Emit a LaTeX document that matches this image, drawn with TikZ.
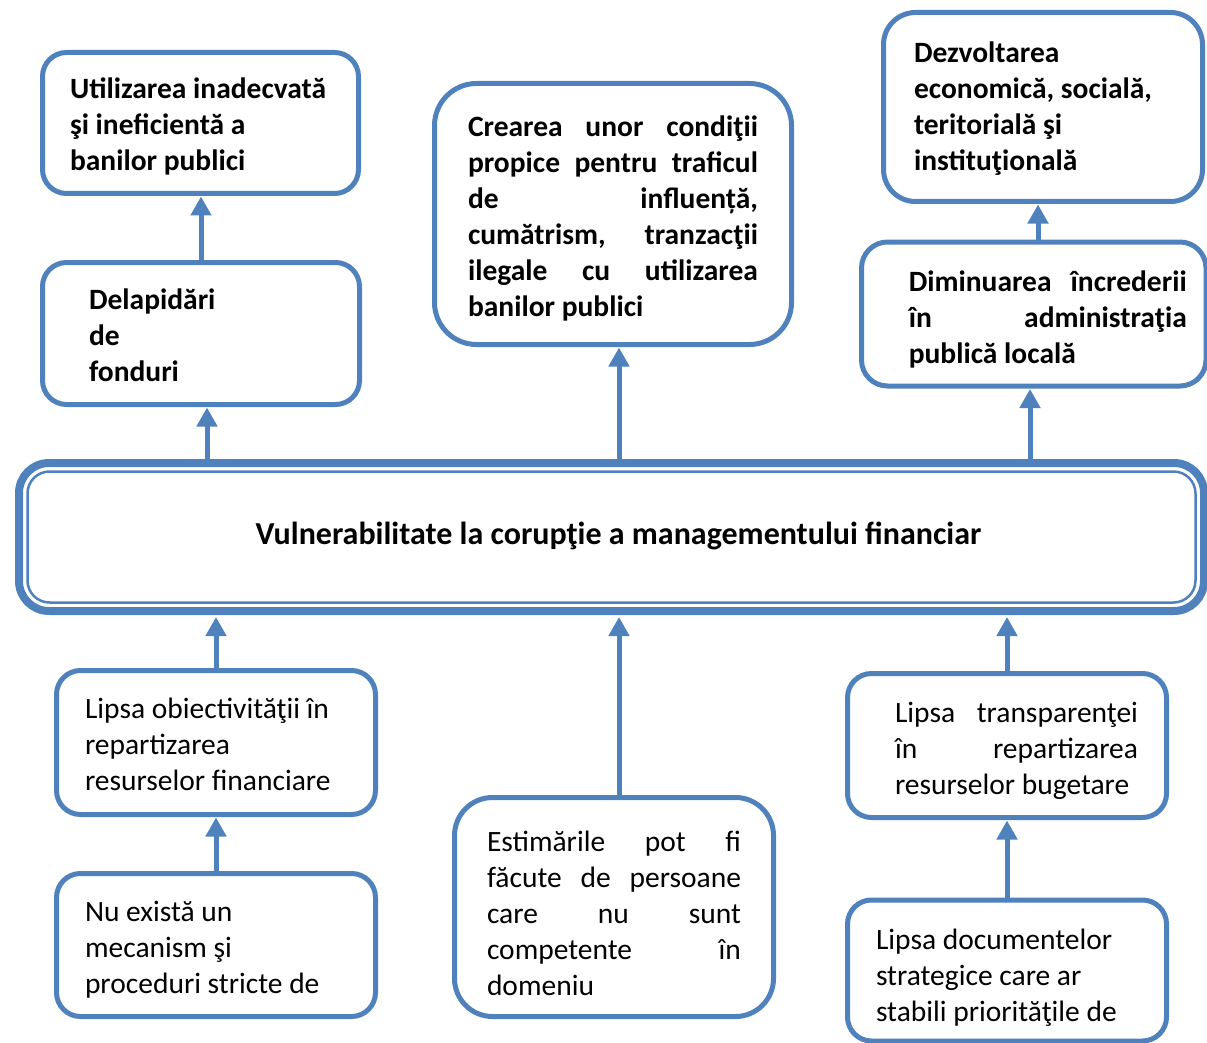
\documentclass[tikz,border=0pt]{standalone}
\usepackage{fontspec}
\setmainfont{Carlito}
\usetikzlibrary{arrows.meta}
\definecolor{frame}{HTML}{4F81BD}
% one justified line of a given width
\newcommand\jline[2]{{\spaceskip=0pt\xspaceskip=0pt\makebox[#1][s]{#2}}}
% invisible struts fixing the height of the first and the depth of the last line
\newcommand\fst[1]{\rule{0pt}{#1pt}}
\newcommand\lst{\rule[-8pt]{0pt}{8pt}}

\tikzset{
  box/.style={draw=frame, line width=5pt, fill=white, inner sep=0pt, outer sep=0pt,
              align=flush left},
  arr/.style={draw=frame, line width=5pt, -{Triangle[width=20pt,length=19pt]}},
  bt/.style={font=\bfseries\fontsize{29.5}{36}\selectfont},
  rt/.style={font=\fontsize{29.5}{36}\selectfont},
}

\begin{document}
\begin{tikzpicture}[x=1pt,y=-1pt]
\useasboundingbox (0,0) rectangle (1207,1043);
\clip (0,0) rectangle (1207,1043);

% central box with double frame
\node[box, line width=8pt, minimum width=1185pt, minimum height=148pt,
      rounded corners=30pt, align=center,
      font=\bfseries\fontsize{32}{40}\selectfont] (cen) at (611.5,537)
  {\hspace*{14pt}\rule[-9pt]{0pt}{33pt}Vulnerabilitate la corupţie a managementului financiar};
\draw[frame, line width=2.5pt, rounded corners=22pt]
  ([shift={(8.5pt,-8.5pt)}]cen.north west) rectangle ([shift={(-8.5pt,8.5pt)}]cen.south east);

% upper row: consequences
\node[box, bt, minimum width=316pt, minimum height=141pt, rounded corners=24pt,
      text width=261pt] (utl) at (200.5,123)
  {\fst{32}Utilizarea inadecvată\\ şi ineficientă a\\ banilor publici\lst};
\node[box, bt, minimum width=317pt, minimum height=142pt, rounded corners=24pt,
      text width=224pt] (del) at (201,333.5)
  {\fst{31}Delapidări\\ de\\ fonduri\lst};
\node[box, bt, minimum width=357pt, minimum height=261pt, rounded corners=42pt,
      text width=290pt] (cre) at (613,214)
  {\fst{33}\jline{290pt}{Crearea unor condiţii}\\
   \jline{290pt}{propice pentru traficul}\\
   \jline{290pt}{de influență,}\\
   \jline{290pt}{cumătrism, tranzacţii}\\
   \jline{290pt}{ilegale cu utilizarea}\\
   banilor publici\lst};
\node[box, bt, minimum width=319pt, minimum height=189pt, rounded corners=32pt,
      text width=258pt] (dez) at (1043,107)
  {\fst{28}Dezvoltarea\\ economică, socială,\\ teritorială şi\\ instituţională\lst};
\node[box, bt, minimum width=344.5pt, minimum height=144pt, rounded corners=26pt,
      text width=306pt] (dim) at (1033.75,314)
  {\fst{34}\hspace*{28pt}\jline{278pt}{Diminuarea încrederii}\\
   \hspace*{28pt}\jline{278pt}{în administraţia}\\
   \hspace*{28pt}publică locală\lst};

% lower row: causes
\node[box, rt, minimum width=319pt, minimum height=144pt, rounded corners=24pt,
      text width=262pt] (lob) at (216,742.5)
  {\fst{31}Lipsa obiectivităţii în\\ repartizarea\\ resurselor financiare\lst};
\node[box, rt, minimum width=319pt, minimum height=143pt, rounded corners=24pt,
      text width=262pt] (nue) at (216,945)
  {\fst{32}Nu există un\\ mecanism şi\\ proceduri stricte de\lst};
\node[box, rt, minimum width=319pt, minimum height=219pt, rounded corners=38pt,
      text width=254pt] (est) at (614,907)
  {\fst{41}\jline{254pt}{Estimările pot fi}\\
   \jline{254pt}{făcute de persoane}\\
   \jline{254pt}{care nu sunt}\\
   \jline{254pt}{competente în}\\
   domeniu\lst};
\node[box, rt, minimum width=319pt, minimum height=144pt, rounded corners=24pt,
      text width=262pt] (ltr) at (1007,745.5)
  {\fst{33}\hspace*{19pt}\jline{243pt}{Lipsa transparenţei}\\
   \hspace*{19pt}\jline{243pt}{în repartizarea}\\
   \hspace*{19pt}resurselor bugetare\lst};
\node[box, rt, minimum width=319pt, minimum height=141pt, rounded corners=24pt,
      text width=262pt] (ldo) at (1007,970.5)
  {\fst{37}Lipsa documentelor\\ strategice care ar\\ stabili priorităţile de\lst};

% connectors
\draw[arr, shorten >=3pt] (del.north) -- (del.north |- utl.south);
\draw[arr, shorten >=3pt] ([xshift=6pt]del.south |- cen.north) -- ([xshift=6pt]del.south);
\draw[arr, shorten >=3pt] ([xshift=6pt]cre.south |- cen.north) -- ([xshift=6pt]cre.south);
\draw[arr, shorten >=3pt] ([xshift=-3.75pt]dim.south |- cen.north) -- ([xshift=-3.75pt]dim.south);
\draw[arr, shorten >=3pt] ([xshift=4.25pt]dim.north) -- ([xshift=4.25pt]dim.north |- dez.south);

\draw[arr, shorten >=6pt] (lob.north) -- (lob.north |- cen.south);
\draw[arr, shorten >=3pt] (nue.north) -- (lob.south);
\draw[arr, shorten >=6pt] ([xshift=5pt]est.north) -- ([xshift=5pt]est.north |- cen.south);
\draw[arr, shorten >=6pt] (ltr.north) -- (ltr.north |- cen.south);
\draw[arr, shorten >=3pt] (ldo.north) -- (ltr.south);
\end{tikzpicture}
\end{document}
